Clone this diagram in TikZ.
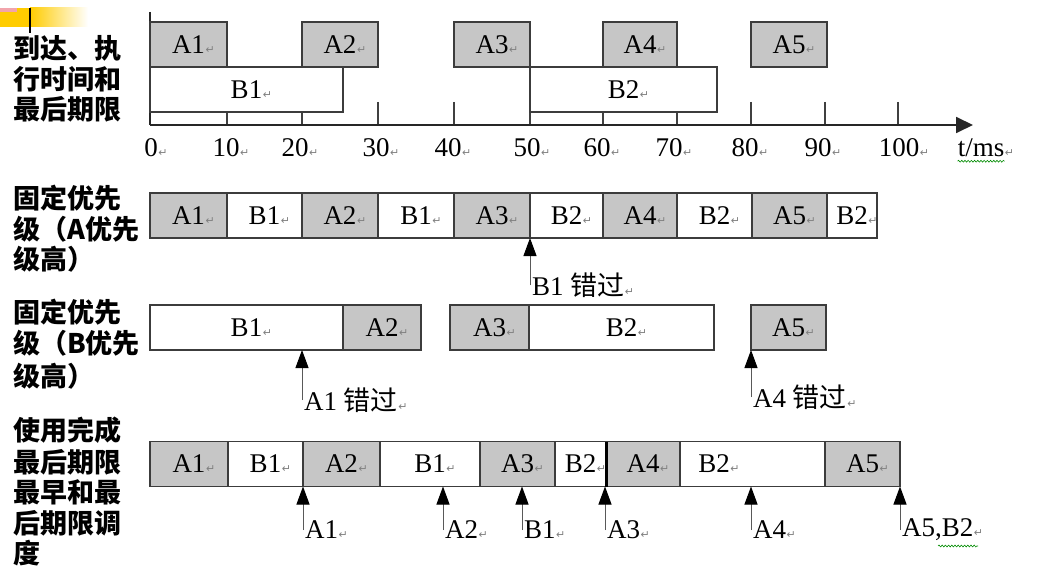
\documentclass[tikz,border=0pt]{standalone}
\usepackage{fontspec}
\setmainfont{Liberation Serif}
\newfontfamily\cjk{Noto Sans CJK SC}
\newfontfamily\dv{DejaVu Sans}
\usetikzlibrary{arrows.meta,decorations.pathmorphing}
\definecolor{boxgray}{HTML}{C6C6C6}
\definecolor{edgecol}{HTML}{3C3C3C}
\definecolor{slideyellow}{HTML}{FFCC00}
\definecolor{slidepink}{HTML}{F2A4AC}
\newcommand\rmk{\rlap{\hspace{0.5pt}{\dv\fontsize{11}{11}\selectfont\color{gray}↵}}}
\newcommand\bx[6]{\node[#1, minimum width={#4-#3}, anchor=north west] (#2) at (#3,#5) {#6};}
\tikzset{
  boxbase/.style={draw=edgecol, line width=1.4pt, inner sep=0pt, outer sep=0pt,
    minimum height=45pt, font=\fontsize{27}{27}\selectfont},
  ab/.style={boxbase, fill=boxgray},
  bb/.style={boxbase, fill=white},
  rowlbl/.style={anchor=west, inner sep=0pt, font=\cjk\bfseries\fontsize{27}{27}\selectfont},
  numlbl/.style={inner sep=0pt, font=\fontsize{27}{27}\selectfont},
  arrlbl/.style={anchor=west, inner sep=0pt, font=\fontsize{27}{27}\selectfont},
  arr/.style={draw=black!65, line width=1pt, -{Triangle[length=18pt,width=13pt,color=black]}},
  axisline/.style={draw=black!85, line width=1.8pt},
  tickline/.style={draw=black!75, line width=1.6pt},
  squiggle/.style={draw=green!55!black, line width=0.6pt, decorate,
    decoration={snake, amplitude=0.9pt, segment length=3.2pt}}
}
\begin{document}
\begin{tikzpicture}[x=1pt,y=-1pt]
\useasboundingbox (0,0) rectangle (1038,588);
\fill[white] (0,0) rectangle (1038,588);
% slide decoration
\fill[slideyellow] (0,8) rectangle (30,27);
\shade[left color=slideyellow, right color=white] (30,8) rectangle (88,27);
\fill[slidepink] (0,8) rectangle (17,12);
\draw[line width=2.6pt] (30,8) -- (30,33);

% row labels
\node[rowlbl] (l1a) at (13,48) {到达、执};
\node[rowlbl] (l1b) at (13,79) {行时间和};
\node[rowlbl] (l1c) at (13,109) {最后期限};
\node[rowlbl] (l2a) at (13,198) {固定优先};
\node[rowlbl] (l2b) at (13,229) {级（A优先};
\node[rowlbl] (l2c) at (13,259) {级高）};
\node[rowlbl] (l3a) at (13,312) {固定优先};
\node[rowlbl] (l3b) at (13,343) {级（B优先};
\node[rowlbl] (l3c) at (13,376) {级高）};
\node[rowlbl] (l4a) at (13,430) {使用完成};
\node[rowlbl] (l4b) at (13,462) {最后期限};
\node[rowlbl] (l4c) at (13,492) {最早和最};
\node[rowlbl] (l4d) at (13,523) {后期限调};
\node[rowlbl] (l4e) at (13,553) {度};

% axis
\coordinate (o) at (150,125);
\coordinate (ytop) at (150,12);
\coordinate (xend) at (973,125);
\foreach \x in {227,302,378,454,530,603,677,751,825,898}
  \draw[tickline] (\x,102) -- (\x,125);
\draw[axisline] (ytop) -- (o);
\draw[axisline, -{Triangle[length=17pt,width=16pt]}] (o) -- (xend);
\node[numlbl] (n0) at (151,148) {0\rmk};
\node[numlbl] (n10) at (226,148) {10\rmk};
\node[numlbl] (n20) at (295,148) {20\rmk};
\node[numlbl] (n30) at (376,148) {30\rmk};
\node[numlbl] (n40) at (448,148) {40\rmk};
\node[numlbl] (n50) at (527,148) {50\rmk};
\node[numlbl] (n60) at (597,148) {60\rmk};
\node[numlbl] (n70) at (669,148) {70\rmk};
\node[numlbl] (n80) at (745,148) {80\rmk};
\node[numlbl] (n90) at (818,148) {90\rmk};
\node[numlbl] (n100) at (899,148) {100\rmk};
\node[numlbl] (tms) at (981,148) {t/ms\rmk};
\draw[squiggle] ([yshift=-4pt]tms.south west) -- ([yshift=-4pt]tms.south east);

% row 1: arrivals
\bx{ab}{r1a1}{150}{227}{22}{A1\rmk}
\bx{ab}{r1a2}{302}{378}{22}{A2\rmk}
\bx{ab}{r1a3}{454}{530}{22}{A3\rmk}
\bx{ab}{r1a4}{603}{677}{22}{A4\rmk}
\bx{ab}{r1a5}{751}{827}{22}{A5\rmk}
\bx{bb}{r1b1}{150}{343}{67}{B1\rmk}
\bx{bb}{r1b2}{530}{717}{67}{B2\rmk}

% row 2: fixed priority, A higher
\bx{ab}{r2a1}{150}{227}{193}{A1\rmk}
\bx{bb}{r2b1}{227}{302}{193}{B1\rmk}
\bx{ab}{r2a2}{302}{378}{193}{A2\rmk}
\bx{bb}{r2b1x}{378}{454}{193}{B1\rmk}
\bx{ab}{r2a3}{454}{530}{193}{A3\rmk}
\bx{bb}{r2b2}{530}{603}{193}{B2\rmk}
\bx{ab}{r2a4}{603}{677}{193}{A4\rmk}
\bx{bb}{r2b2x}{677}{752}{193}{B2\rmk}
\bx{ab}{r2a5}{752}{827}{193}{A5\rmk}
\bx{bb}{r2b2y}{827}{877}{193}{B2\rmk}
\coordinate (p21) at (530,285);
\draw[arr] (p21) -- (p21 |- r2b2.south);
\node[arrlbl] (m21) at ([xshift=2pt]p21) {B1 {\cjk 错过}\rmk};

% row 3: fixed priority, B higher
\bx{bb}{r3b1}{150}{343}{305}{B1\rmk}
\bx{ab}{r3a2}{343}{421}{305}{A2\rmk}
\bx{ab}{r3a3}{450}{529}{305}{A3\rmk}
\bx{bb}{r3b2}{529}{714}{305}{B2\rmk}
\bx{ab}{r3a5}{751}{826}{305}{A5\rmk}
\coordinate (p31) at (302,400);
\draw[arr] (p31) -- (p31 |- r3b1.south);
\node[arrlbl] (m31) at ([xshift=2pt]p31) {A1 {\cjk 错过}\rmk};
\coordinate (p32) at (751,397);
\draw[arr] (p32) -- (p32 |- r3a5.south);
\node[arrlbl] (m32) at ([xshift=2pt]p32) {A4 {\cjk 错过}\rmk};

% row 4: earliest deadline first
\bx{ab}{r4a1}{150}{228}{441.5}{A1\rmk}
\bx{bb}{r4b1}{228}{303}{441.5}{B1\rmk}
\bx{ab}{r4a2}{303}{380}{441.5}{A2\rmk}
\bx{bb}{r4b1x}{380}{480}{441.5}{B1\rmk}
\bx{ab}{r4a3}{480}{555}{441.5}{A3\rmk}
\bx{bb}{r4b2}{555}{606}{441.5}{B2\rmk}
\bx{ab}{r4a4}{606}{680}{441.5}{A4\rmk}
\bx{bb}{r4b2x}{680}{825}{441.5}{}
\bx{ab}{r4a5}{825}{900}{441.5}{A5\rmk}
\node[numlbl] (t4b2x) at (714,464) {B2\rmk};
\draw[line width=3pt] (r4b2.north east) -- (r4b2.south east);
\foreach \nm/\x/\t in {q41/303/A1, q42/443/A2, q43/522/B1, q44/605/A3, q45/751/A4}{
  \coordinate (\nm) at (\x,530);
  \draw[arr] (\nm) -- (\nm |- r4a1.south);
  \node[arrlbl] (lab\nm) at ([xshift=2pt]\nm) {\t\rmk};
}
\coordinate (q46) at (900,530);
\draw[arr] (q46) -- (q46 |- r4a5.south);
\node[arrlbl] (labq46) at ([xshift=2pt]q46) {A5,B2\rmk};
\draw[squiggle] (938,546) -- (978,546);
\end{tikzpicture}
\end{document}
